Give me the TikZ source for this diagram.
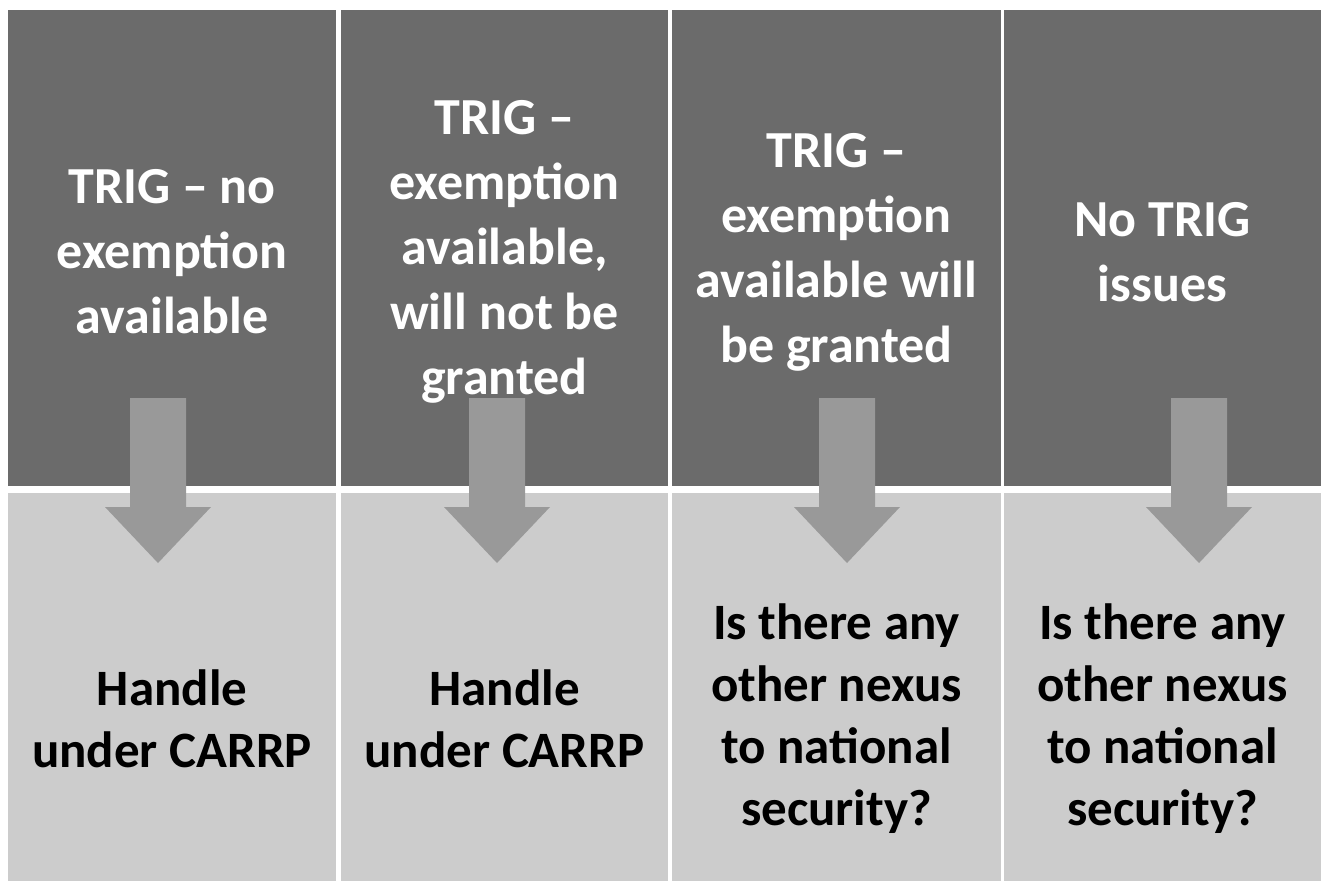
\documentclass[tikz,border=0pt]{standalone}
\usepackage{fontspec}
\setmainfont{Carlito}
\usetikzlibrary{positioning}

\tikzset{
  topbox/.style={fill=black!58, draw=none, minimum height=238pt, inner sep=0pt},
  bottombox/.style={fill=black!20, draw=none, minimum height=194pt, inner sep=0pt},
  blockarrow/.style={fill=black!40},
  toptext/.style={text=white, align=center, font=\fontsize{26pt}{32.5pt}\selectfont\bfseries},
  bottomtext/.style={text=black, align=center, font=\fontsize{25.5pt}{31pt}\selectfont\bfseries}
}

\begin{document}
\begin{tikzpicture}[x=0.5pt, y=-0.5pt]
  \useasboundingbox[fill=white] (0,0) rectangle (1321,880);

  % Spalten: oben dunkel, unten hell
  \foreach \i/\cx/\w in {1/172/164pt, 2/504.5/163.5pt, 3/836.5/164.5pt, 4/1162.5/158.5pt} {
    \node[topbox, minimum width=\w] (t\i) at (\cx,248) {};
    \node[bottombox, minimum width=\w] (b\i) at (\cx,687) {};
  }

  % Blockpfeile nach unten
  \foreach \ax in {158,497,847,1199}
    \fill[blockarrow] (\ax-28,398) -- (\ax+28,398) -- (\ax+28,507) -- (\ax+53,507)
      -- (\ax,563) -- (\ax-53,507) -- (\ax-28,507) -- cycle;

  % Texte oben
  \node[toptext] (tt1) at ([yshift=-2pt]t1.center) {TRIG -- no\\exemption\\available};
  \node[toptext] (tt2) at ([yshift=-2pt]t2.center) {TRIG --\\exemption\\available,\\will not be\\granted};
  \node[toptext] (tt3) at ([yshift=-2pt]t3.center) {TRIG --\\exemption\\available will\\be granted};
  \node[toptext] (tt4) at ([yshift=-2pt]t4.center) {No TRIG\\issues};

  % Texte unten
  \node[bottomtext] (bt1) at ([yshift=-16pt]b1.center) {Handle\\under CARRP};
  \node[bottomtext] (bt2) at ([yshift=-16pt]b2.center) {Handle\\under CARRP};
  \node[bottomtext] (bt3) at ([yshift=-16pt]b3.center) {Is there any\\other nexus\\to national\\security?};
  \node[bottomtext] (bt4) at ([yshift=-16pt]b4.center) {Is there any\\other nexus\\to national\\security?};
\end{tikzpicture}
\end{document}
